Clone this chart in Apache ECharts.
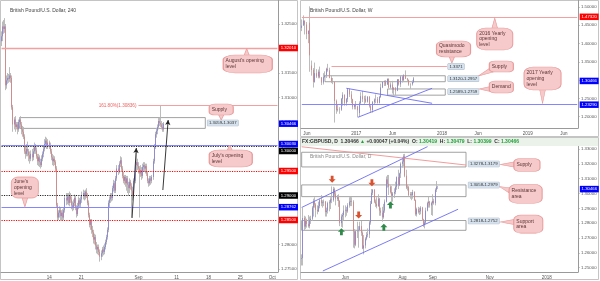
<!DOCTYPE html>
<html><head><meta charset="utf-8">
<script src="https://cdn.jsdelivr.net/npm/echarts@6/dist/echarts.min.js"></script>
<style>html,body{margin:0;padding:0;background:#fff}#c{width:600px;height:281px}</style>
</head><body><div id="c"></div>
<script>
// ================= DATA =================
// 4h candles [open, close, low, high], Aug 2 (partial) .. Sep 7 2017
const h4Candles = [
[1.3215,1.3225,1.3205,1.3235],[1.3225,1.3245,1.3215,1.3255],[1.3245,1.3240,1.3230,1.3258],
[1.3240,1.3245,1.3232,1.3262],[1.3245,1.3125,1.3115,1.3250],[1.3125,1.3135,1.3118,1.3145],[1.3135,1.3140,1.3128,1.3150],[1.3140,1.3138,1.3130,1.3148],[1.3138,1.3145,1.3132,1.3162],
[1.3145,1.3140,1.3130,1.3150],[1.3140,1.3080,1.3075,1.3145],[1.3080,1.3045,1.3030,1.3085],[1.3045,1.3055,1.3035,1.3060],[1.3055,1.3040,1.3030,1.3062],[1.3040,1.3045,1.3035,1.3050],
[1.3045,1.3035,1.3025,1.3050],[1.3035,1.3050,1.3030,1.3055],[1.3050,1.3055,1.3042,1.3060],[1.3055,1.3045,1.3038,1.3062],[1.3045,1.3035,1.3025,1.3050],[1.3035,1.3030,1.3020,1.3042],
[1.3030,1.3020,1.3015,1.3040],[1.3020,1.2990,1.2985,1.3025],[1.2990,1.2985,1.2975,1.3000],[1.2985,1.2995,1.2980,1.3005],[1.2995,1.2990,1.2980,1.3010],[1.2990,1.2982,1.2970,1.2995],
[1.2982,1.2975,1.2965,1.2990],[1.2975,1.2985,1.2970,1.2992],[1.2985,1.2978,1.2970,1.2995],[1.2978,1.2990,1.2972,1.2998],[1.2990,1.3000,1.2985,1.3008],[1.3000,1.2992,1.2985,1.3005],
[1.2992,1.2980,1.2975,1.2998],[1.2980,1.2970,1.2962,1.2985],[1.2970,1.2978,1.2960,1.2985],[1.2978,1.2968,1.2958,1.2982],[1.2968,1.2962,1.2955,1.2975],[1.2962,1.2975,1.2958,1.2982],
[1.2975,1.2985,1.2970,1.2990],[1.2985,1.2995,1.2978,1.3000],[1.2995,1.3005,1.2990,1.3015],[1.3005,1.3012,1.2998,1.3020],[1.3012,1.3000,1.2995,1.3018],[1.3000,1.3008,1.2995,1.3015],
[1.3008,1.3002,1.2995,1.3012],[1.3002,1.2990,1.2985,1.3008],[1.2990,1.2978,1.2972,1.2995],[1.2978,1.2970,1.2962,1.2985],[1.2970,1.2975,1.2960,1.2982],[1.2975,1.2968,1.2962,1.2980],
[1.2968,1.2955,1.2950,1.2972],[1.2955,1.2880,1.2875,1.2960],[1.2880,1.2855,1.2848,1.2885],[1.2855,1.2865,1.2850,1.2870],[1.2865,1.2870,1.2855,1.2878],[1.2870,1.2858,1.2850,1.2875],
[1.2858,1.2865,1.2850,1.2870],[1.2865,1.2855,1.2848,1.2872],[1.2855,1.2870,1.2850,1.2875],[1.2870,1.2895,1.2865,1.2900],[1.2895,1.2890,1.2880,1.2905],[1.2890,1.2898,1.2882,1.2905],
[1.2898,1.2885,1.2880,1.2905],[1.2885,1.2900,1.2878,1.2908],[1.2900,1.2892,1.2885,1.2905],[1.2892,1.2880,1.2872,1.2898],[1.2880,1.2875,1.2868,1.2888],[1.2875,1.2885,1.2870,1.2892],
[1.2885,1.2895,1.2878,1.2902],[1.2895,1.2875,1.2870,1.2900],[1.2875,1.2862,1.2855,1.2880],[1.2862,1.2878,1.2858,1.2885],[1.2878,1.2890,1.2872,1.2898],[1.2890,1.2882,1.2875,1.2895],
[1.2882,1.2892,1.2875,1.2898],[1.2892,1.2900,1.2885,1.2908],[1.2900,1.2905,1.2892,1.2912],[1.2905,1.2898,1.2890,1.2910],[1.2898,1.2908,1.2892,1.2912],[1.2908,1.2900,1.2895,1.2915],
[1.2900,1.2885,1.2880,1.2905],[1.2885,1.2860,1.2855,1.2890],[1.2860,1.2840,1.2835,1.2865],[1.2840,1.2848,1.2830,1.2852],[1.2848,1.2830,1.2822,1.2852],[1.2830,1.2825,1.2815,1.2838],
[1.2825,1.2810,1.2802,1.2830],[1.2810,1.2815,1.2800,1.2822],[1.2815,1.2798,1.2790,1.2820],[1.2798,1.2790,1.2782,1.2805],[1.2790,1.2795,1.2780,1.2800],[1.2795,1.2785,1.2778,1.2800],
[1.2785,1.2775,1.2765,1.2790],[1.2775,1.2782,1.2768,1.2788],[1.2782,1.2790,1.2775,1.2795],[1.2790,1.2785,1.2778,1.2798],[1.2785,1.2795,1.2780,1.2802],[1.2795,1.2805,1.2790,1.2810],
[1.2805,1.2815,1.2800,1.2820],[1.2815,1.2830,1.2810,1.2835],[1.2830,1.2885,1.2825,1.2890],[1.2885,1.2892,1.2875,1.2898],[1.2892,1.2900,1.2885,1.2905],[1.2900,1.2895,1.2888,1.2905],
[1.2895,1.2915,1.2890,1.2920],[1.2915,1.2925,1.2908,1.2932],[1.2925,1.2910,1.2905,1.2930],[1.2910,1.2935,1.2905,1.2940],[1.2935,1.2955,1.2930,1.2962],[1.2955,1.2950,1.2942,1.2962],
[1.2950,1.2965,1.2945,1.2970],[1.2965,1.2972,1.2958,1.2980],[1.2972,1.2955,1.2950,1.2978],[1.2955,1.2940,1.2935,1.2960],[1.2940,1.2930,1.2925,1.2948],[1.2930,1.2938,1.2922,1.2942],
[1.2938,1.2925,1.2918,1.2942],[1.2925,1.2935,1.2910,1.2940],[1.2935,1.2922,1.2905,1.2940],[1.2922,1.2915,1.2900,1.2928],[1.2915,1.2928,1.2905,1.2935],[1.2928,1.2920,1.2912,1.2932],
[1.2920,1.2910,1.2855,1.2925],[1.2910,1.2900,1.2890,1.2918],[1.2900,1.2930,1.2895,1.2935],[1.2930,1.2962,1.2925,1.2970],[1.2962,1.2968,1.2950,1.2993],[1.2968,1.2960,1.2952,1.2975],
[1.2960,1.2955,1.2945,1.2968],[1.2955,1.2945,1.2855,1.2960],[1.2945,1.2952,1.2938,1.2962],[1.2952,1.2940,1.2932,1.2958],[1.2940,1.2958,1.2935,1.2965],[1.2958,1.2962,1.2950,1.2968],
[1.2962,1.2955,1.2948,1.2968],[1.2955,1.2960,1.2945,1.2965],[1.2960,1.2945,1.2940,1.2965],[1.2945,1.2930,1.2925,1.2950],[1.2930,1.2925,1.2918,1.2935],[1.2925,1.2935,1.2920,1.2940],
[1.2935,1.2930,1.2922,1.2940],[1.2930,1.2938,1.2925,1.2942],[1.2938,1.2970,1.2932,1.2975],[1.2970,1.3000,1.2965,1.3005],[1.3000,1.3025,1.2995,1.3030],[1.3025,1.3032,1.3018,1.3038],
[1.3032,1.3040,1.3025,1.3045],[1.3040,1.3052,1.3035,1.3058],[1.3052,1.3048,1.3042,1.3060],[1.3048,1.3045,1.3040,1.30836],[1.3045,1.3040,1.3035,1.3052],[1.3040,1.3035,1.3030,1.3048],
[1.3035,1.30466,1.3030,1.3050]
];
const h4Count = 261;
const h4TickIdx = [45, 75, 129, 165, 195, 225, 255];
const h4TickLabels = ['14', '21', 'Sep', '11', '18', '25', 'Oct'];
const h4YTicks = [1.275, 1.28, 1.285, 1.29, 1.295, 1.30, 1.305, 1.31, 1.315, 1.32, 1.325];

// weekly candles [open, close, low, high], May 16 2016 .. Sep 4 2017
const wCandles = [
[1.4430,1.4490,1.4340,1.4660],[1.4490,1.4630,1.4490,1.4770],[1.4630,1.4520,1.4250,1.4630],[1.4520,1.4260,1.4120,1.4590],
[1.4260,1.4350,1.4010,1.4360],[1.4570,1.3680,1.3229,1.5018],[1.3400,1.3280,1.3122,1.3535],[1.3280,1.2950,1.2798,1.3330],
[1.2950,1.3190,1.2930,1.3480],[1.3190,1.3100,1.3060,1.3300],[1.3100,1.3230,1.3050,1.3290],[1.3230,1.3080,1.3050,1.3370],
[1.3080,1.2935,1.2865,1.3080],[1.2935,1.3080,1.2880,1.3190],[1.3080,1.3130,1.3060,1.3240],[1.3130,1.3310,1.3060,1.3340],
[1.3310,1.3270,1.3230,1.3445],[1.3270,1.3060,1.3050,1.3340],[1.3060,1.2965,1.2920,1.3140],[1.2965,1.2955,1.2890,1.3060],
[1.2955,1.2430,1.1840,1.2970],[1.2430,1.2180,1.2080,1.2470],[1.2180,1.2200,1.2140,1.2330],[1.2200,1.2190,1.2080,1.2260],
[1.2190,1.2490,1.2160,1.2510],[1.2490,1.2600,1.2300,1.2670],[1.2600,1.2380,1.2300,1.2610],[1.2380,1.2480,1.2300,1.2510],
[1.2480,1.2750,1.2400,1.2775],[1.2750,1.2610,1.2540,1.2770],[1.2610,1.2480,1.2370,1.2700],[1.2480,1.2270,1.2200,1.2490],
[1.2270,1.2340,1.2200,1.2350],[1.2340,1.2280,1.2200,1.2430],[1.2280,1.2180,1.1985,1.2300],[1.2100,1.2370,1.2000,1.2420],
[1.2370,1.2560,1.2350,1.2670],[1.2560,1.2480,1.2400,1.2705],[1.2480,1.2490,1.2345,1.2570],[1.2490,1.2410,1.2380,1.2580],
[1.2410,1.2550,1.2385,1.2560],[1.2550,1.2290,1.2250,1.2560],[1.2290,1.2180,1.2110,1.2340],[1.2180,1.2400,1.2110,1.2430],
[1.2400,1.2470,1.2340,1.2500],[1.2470,1.2480,1.2370,1.2610],[1.2480,1.2380,1.2360,1.2540],[1.2380,1.2540,1.2360,1.2570],
[1.2540,1.2800,1.2515,1.2905],[1.2800,1.2950,1.2780,1.2960],[1.2950,1.2970,1.2840,1.2990],[1.2970,1.2880,1.2840,1.3000],
[1.2880,1.3030,1.2870,1.3050],[1.3030,1.2800,1.2780,1.3050],[1.2800,1.2880,1.2770,1.2940],[1.2880,1.2740,1.2635,1.2980],
[1.2740,1.2780,1.2590,1.2810],[1.2780,1.2710,1.2590,1.2810],[1.2710,1.3020,1.2700,1.3030],[1.3020,1.2885,1.2850,1.3030],
[1.2885,1.3095,1.2810,1.3115],[1.3095,1.3000,1.2935,1.3125],[1.3000,1.3135,1.2970,1.3160],[1.3135,1.3040,1.3030,1.3267],
[1.3040,1.3010,1.2955,1.3060],[1.3010,1.2880,1.2845,1.3015],[1.2880,1.2885,1.2765,1.2915],[1.2885,1.2950,1.2850,1.2995],
[1.2950,1.30466,1.2920,1.3084]
];
const wCount = 168;
const wTickIdx = [3, 33, 55, 85, 107, 137, 159];
const wTickLabels = ['Jun', '2017', 'Jun', '2018', 'Jun', '2019', 'Jun'];
const wYTicks = [1.20, 1.25, 1.30, 1.35, 1.40, 1.45, 1.50];

// daily candles [open, close, low, high], Apr 17 .. Sep 7 2017
const dCandles = [
[1.2560,1.2565,1.2515,1.2590],[1.2565,1.2835,1.2515,1.2905],[1.2835,1.2777,1.2750,1.2850],[1.2777,1.2815,1.2760,1.2845],[1.2815,1.2795,1.2770,1.2830],
[1.2795,1.2780,1.2770,1.2855],[1.2780,1.2820,1.2765,1.2845],[1.2820,1.2830,1.2795,1.2850],[1.2830,1.2905,1.2815,1.2915],[1.2905,1.2945,1.2845,1.2965],
[1.2945,1.2925,1.2905,1.2975],[1.2925,1.2890,1.2840,1.2935],[1.2890,1.2880,1.2860,1.2920],[1.2880,1.2915,1.2875,1.2945],[1.2915,1.2955,1.2900,1.2965],
[1.2955,1.2935,1.2915,1.2990],[1.2935,1.2940,1.2905,1.2955],[1.2940,1.2945,1.2915,1.2960],[1.2945,1.2875,1.2845,1.2950],[1.2875,1.2885,1.2845,1.2905],
[1.2885,1.2935,1.2865,1.2945],[1.2935,1.2940,1.2880,1.2955],[1.2940,1.2960,1.2895,1.2975],[1.2960,1.2955,1.2935,1.3048],[1.2955,1.3030,1.2945,1.3045],
[1.3030,1.2995,1.2975,1.3040],[1.2995,1.2965,1.2920,1.3010],[1.2965,1.2975,1.2950,1.2990],[1.2975,1.2950,1.2910,1.2995],[1.2950,1.2800,1.2780,1.2955],
[1.2800,1.2845,1.2775,1.2860],[1.2845,1.2855,1.2770,1.2870],[1.2855,1.2885,1.2820,1.2920],[1.2885,1.2890,1.2840,1.2920],[1.2890,1.2880,1.2850,1.2910],
[1.2880,1.2920,1.2870,1.2935],[1.2920,1.2945,1.2905,1.2975],[1.2945,1.2950,1.2915,1.2980],[1.2950,1.2945,1.2915,1.2975],[1.2945,1.2745,1.2635,1.2955],
[1.2745,1.2655,1.2630,1.2760],[1.2655,1.2745,1.2645,1.2755],[1.2745,1.2750,1.2700,1.2810],[1.2750,1.2755,1.2635,1.2780],[1.2755,1.2780,1.2745,1.2810],
[1.2780,1.2735,1.2715,1.2815],[1.2735,1.2630,1.2625,1.2745],[1.2630,1.2650,1.2590,1.2720],[1.2650,1.2695,1.2630,1.2705],[1.2695,1.2720,1.2685,1.2740],
[1.2720,1.2725,1.2705,1.2765],[1.2725,1.2805,1.2700,1.2820],[1.2805,1.2930,1.2790,1.2950],[1.2930,1.3005,1.2930,1.3030],[1.3005,1.3025,1.2990,1.3030],
[1.3025,1.2945,1.2935,1.3030],[1.2945,1.2930,1.2910,1.2960],[1.2930,1.2915,1.2900,1.2975],[1.2915,1.2965,1.2910,1.2995],[1.2965,1.2885,1.2850,1.2970],
[1.2885,1.2870,1.2850,1.2905],[1.2870,1.2840,1.2810,1.2910],[1.2840,1.2885,1.2830,1.2930],[1.2885,1.2945,1.2870,1.2960],[1.2945,1.3095,1.2940,1.3115],
[1.3095,1.3065,1.3040,1.3125],[1.3065,1.3045,1.2990,1.3125],[1.3045,1.3010,1.3000,1.3055],[1.3010,1.2985,1.2935,1.3050],[1.2985,1.3000,1.2945,1.3010],
[1.3000,1.3010,1.2970,1.3035],[1.3010,1.3045,1.2995,1.3080],[1.3045,1.3110,1.3025,1.3115],[1.3110,1.3055,1.3030,1.3160],[1.3055,1.3135,1.3050,1.3140],
[1.3135,1.3200,1.3105,1.3210],[1.3200,1.3215,1.3175,1.3245],[1.3215,1.3250,1.3185,1.3265],[1.3250,1.3120,1.3110,1.3267],[1.3120,1.3040,1.3030,1.3160],
[1.3040,1.3042,1.3020,1.3060],[1.3042,1.2990,1.2980,1.3050],[1.2990,1.2995,1.2965,1.3010],[1.2995,1.2990,1.2955,1.3010],[1.2990,1.3010,1.2965,1.3025],
[1.3010,1.2955,1.2950,1.3015],[1.2955,1.2860,1.2850,1.2960],[1.2860,1.2895,1.2845,1.2905],[1.2895,1.2875,1.2865,1.2910],[1.2875,1.2880,1.2855,1.2905],
[1.2880,1.2905,1.2860,1.2915],[1.2905,1.2825,1.2815,1.2910],[1.2825,1.2790,1.2775,1.2830],[1.2790,1.2805,1.2765,1.2815],[1.2805,1.2885,1.2795,1.2905],
[1.2885,1.2935,1.2880,1.2945],[1.2935,1.2945,1.2905,1.2980],[1.2945,1.2920,1.2905,1.2950],[1.2920,1.2935,1.2855,1.2945],[1.2935,1.2950,1.2850,1.2995],
[1.2950,1.2935,1.2925,1.2965],[1.2935,1.3025,1.2920,1.3035],[1.3025,1.3045,1.3010,1.3084],[1.3045,1.30466,1.3030,1.3050]
];
const dCount = 209;
const dTickIdx = [33, 76, 99, 142, 185];
const dTickLabels = ['Jun', 'Aug', 'Sep', 'Nov', '2018'];
const dYTicks = [1.25, 1.26, 1.27, 1.28, 1.29, 1.30, 1.31, 1.32, 1.33];

// ================= STYLE / HELPERS =================
const FONT = 'Liberation Sans, Arial, sans-serif';
const UP = '#4646ee', DOWN = '#ee4646', WICK = '#b4b4b4';
const PINK = '#f6caca', PINKB = '#e89a9a', PTXT = '#5e3434';
const ZLBL = '#d5e2ee';
const RED = '#ff0000', BLUE = '#0000ff', BLACK = '#000000';
const LRED = '#f4a0a0', LBLUE = '#8585ff';
const DOT = [1.2, 1.2];

const cats = n => Array.from({length: n}, (_, i) => String(i));
const bodies = arr => arr.map(c => [c[0], c[1], Math.min(c[0], c[1]), Math.max(c[0], c[1])]);

function segLine(x1, y1, x2, y2, color, width, type, arrow) {
  return [
    { coord: [x1, y1], symbol: 'none' },
    { coord: [x2, y2], symbol: arrow ? 'arrow' : 'none', symbolSize: arrow ? [4, 5] : 0,
      lineStyle: { color: color, width: width, type: type || 'solid' } }
  ];
}
function tag(idx, v, text, color, dx, dy) {
  return { coord: [idx, v], symbol: 'rect', symbolSize: [19, 6.5], symbolOffset: [dx, dy || 0],
    itemStyle: { color: color }, z: 10,
    label: { show: true, position: 'inside', formatter: text, color: '#fff', fontSize: 4.3, fontFamily: FONT } };
}
function zoneLabel(idx, v, text) {
  return { coord: [idx, v], symbol: 'rect', symbolSize: 0.1, itemStyle: { color: 'rgba(0,0,0,0)' },
    label: { show: true, position: 'right', distance: 1, formatter: text, color: '#333', fontSize: 4.3,
      fontFamily: FONT, backgroundColor: ZLBL, borderColor: '#aab8c8', borderWidth: 0.5, padding: [1, 1.5, 0.5, 1.5] } };
}
function bubble(idx, v, w, h, text) {
  return { coord: [idx, v], symbol: 'roundRect', symbolSize: [w, h],
    itemStyle: { color: PINK, borderColor: PINKB, borderWidth: 0.8 },
    label: { show: true, position: 'insideLeft', distance: 3, formatter: text, color: PTXT, fontSize: 5,
      lineHeight: 5.8, fontFamily: FONT } };
}
function pointer(idx, v, w, h, rot) {
  return { coord: [idx, v], symbol: 'triangle', symbolSize: [w, h], symbolRotate: rot,
    itemStyle: { color: PINK, borderColor: PINKB, borderWidth: 0.8 }, label: { show: false } };
}
const blockArrow = 'path://M4,0 L8,4 L5.6,4 L5.6,8 L2.4,8 L2.4,4 L0,4 Z';
function marker(idx, v, up) {
  return { coord: [idx, v], symbol: blockArrow, symbolSize: [7, 7], symbolRotate: up ? 0 : 180,
    itemStyle: { color: up ? '#2f8a4a' : '#d9512f' }, label: { show: false } };
}
function zone(x1, y1, x2, y2) {
  return [{ coord: [x1, y1] }, { coord: [x2, y2] }];
}

function xAxisCfg(gi, count, tickIdx, tickLabels) {
  return {
    type: 'category', gridIndex: gi, data: cats(count), boundaryGap: true,
    axisLine: { lineStyle: { color: '#9a9a9a', width: 1 } },
    axisTick: { show: false },
    axisLabel: {
      interval: (i) => tickIdx.indexOf(i) >= 0,
      formatter: (v, i) => { const k = tickIdx.indexOf(Number(v)); return k >= 0 ? tickLabels[k] : ''; },
      fontSize: 4.5, color: '#555', margin: 3, fontFamily: FONT
    },
    splitLine: { show: false }, splitArea: { show: false }
  };
}
function yAxisCfg(gi, min, max, ticks) {
  return {
    type: 'value', gridIndex: gi, position: 'right', min: min, max: max, scale: true,
    axisLine: { show: true, lineStyle: { color: '#9a9a9a', width: 1 } },
    axisTick: { show: true, length: 1.5, customValues: ticks, lineStyle: { color: '#999' } },
    axisLabel: { customValues: ticks, formatter: v => v.toFixed(5), fontSize: 4.3, color: '#555', margin: 3, fontFamily: FONT },
    splitLine: { show: false }, splitArea: { show: false }
  };
}
function candleSeries(gi, data, bw, extraWick, extraBody) {
  return [
    Object.assign({
      type: 'candlestick', xAxisIndex: gi, yAxisIndex: gi, data: data, barWidth: 1, z: 2,
      itemStyle: { color: WICK, color0: WICK, borderColor: WICK, borderColor0: WICK, borderWidth: 0.9 }
    }, extraWick),
    Object.assign({
      type: 'candlestick', xAxisIndex: gi, yAxisIndex: gi, data: bodies(data), barWidth: bw, z: 3,
      itemStyle: { color: UP, color0: DOWN, borderColor: UP, borderColor0: DOWN, borderWidth: 0.4 }
    }, extraBody)
  ];
}
const MLBASE = { silent: true, symbol: ['none', 'none'], label: { show: false }, animation: false };

// ================= PANEL 1 : 4h =================
const h4Last = h4Count - 1;
const p1 = candleSeries(0, h4Candles, 1.0, {
  markLine: Object.assign({}, MLBASE, { data: [
    segLine(0, 1.3201, h4Last, 1.3201, LRED, 1.4),
    segLine(0, 1.3003, h4Last, 1.3003, LBLUE, 1),
    segLine(0, 1.3000, h4Last, 1.3000, '#222', 1, DOT),
    segLine(0, 1.2950, h4Last, 1.2950, RED, 1, DOT),
    segLine(0, 1.2900, h4Last, 1.2900, '#222', 1, DOT),
    segLine(0, 1.28762, h4Last, 1.28762, LBLUE, 1),
    segLine(0, 1.2850, h4Last, 1.2850, RED, 1, DOT),
    [{ coord: [129, 1.30836], symbol: 'none', label: { show: true, position: 'start', distance: 2, formatter: '161.80%(1.30836)',
        color: '#ee6060', fontSize: 4.6, fontFamily: FONT } },
     { coord: [h4Last, 1.30836], symbol: 'none', lineStyle: { color: LRED, width: 1, type: 'solid' } }],
    segLine(123, 1.28541, 127, 1.29969, '#222', 0.9, 'solid', true),
    segLine(152, 1.29112, 157, 1.30541, '#222', 0.9, 'solid', true)
  ]}),
  markArea: { silent: true, itemStyle: { color: 'rgba(255,255,255,0)', borderColor: '#8a8a8a', borderWidth: 0.8 },
    data: [zone(17, 1.3059, 192, 1.3037)] }
}, {
  markPoint: { silent: true, animation: false, data: [
    zoneLabel(193, 1.3048, '1.3059-1.3037'),
    pointer(231, 1.31918, 6, 8, 0), bubble(232, 1.31684, 49, 18, "August's opening\nlevel"),
    pointer(207, 1.30602, 6, 6, 180), bubble(207, 1.30755, 24, 11, 'Supply'),
    pointer(215, 1.29965, 6, 6, 0), bubble(216, 1.29755, 43, 17, "July's opening\nlevel"),
    pointer(22, 1.28867, 6, 10, 180), bubble(22, 1.29163, 27, 21, "June's\nopening\nlevel"),
    tag(h4Last, 1.3201, '1.32010', RED, 11, 0),
    tag(h4Last, 1.30466, '1.30466', BLUE, 11, 0),
    tag(h4Last, 1.3003, '1.30030', BLUE, 11, -1),
    tag(h4Last, 1.3000, '1.30000', BLACK, 11, 4.5),
    tag(h4Last, 1.2950, '1.29500', RED, 11, 0),
    tag(h4Last, 1.2900, '1.29000', BLACK, 11, 0),
    tag(h4Last, 1.28762, '1.28762', BLUE, 11, 0),
    tag(h4Last, 1.2850, '1.28500', RED, 11, 0)
  ]}
});

// ================= PANEL 2 : weekly =================
const wLast = wCount - 1;
const p2 = candleSeries(1, wCandles, 1.2, {
  markLine: Object.assign({}, MLBASE, { data: [
    segLine(0, 1.4732, wLast, 1.4732, LRED, 1.2),
    segLine(0, 1.2329, wLast, 1.2329, LBLUE, 1.2),
    segLine(18, 1.3371, 88, 1.3371, LRED, 1),
    segLine(27, 1.2777, 79, 1.2367, '#6c6cf2', 0.9),
    segLine(34, 1.1984, 79, 1.2777, '#6c6cf2', 0.9)
  ]}),
  markArea: { silent: true, itemStyle: { color: 'rgba(255,255,255,0)', borderColor: '#8a8a8a', borderWidth: 0.8 },
    data: [zone(14, 1.3120, 87, 1.2957), zone(52, 1.2759, 87, 1.2589)] }
}, {
  markPoint: { silent: true, animation: false, data: [
    zoneLabel(88, 1.3371, '1.3371'),
    zoneLabel(88, 1.3039, '1.3120-1.2957'),
    zoneLabel(88, 1.2685, '1.2589-1.2759'),
    pointer(117, 1.4549, 6, 11, 0), bubble(117, 1.4125, 36, 22, '2016 Yearly\nopening\nlevel'),
    pointer(91, 1.3564, 6, 7, 180), bubble(92, 1.3852, 34, 16, 'Quasimodo\nresistance'),
    pointer(111, 1.3195, 5, 15, 115), bubble(121, 1.3373, 24, 11, 'Supply'),
    pointer(111, 1.2758, 5, 12, 90), bubble(121, 1.2812, 24, 12, 'Demand'),
    pointer(146, 1.2561, 6, 14.5, 180), bubble(146, 1.3045, 37, 23, '2017 Yearly\nopening\nlevel'),
    tag(wLast, 1.4732, '1.47320', RED, 12, 0),
    tag(wLast, 1.30466, '1.30466', BLUE, 12, 2.5),
    tag(wLast, 1.2329, '1.23290', BLUE, 12, 0)
  ]}
});

// ================= PANEL 3 : daily =================
const dLast = dCount - 1;
const p3 = candleSeries(2, dCandles, 1.0, {
  markLine: Object.assign({}, MLBASE, { data: [
    segLine(0, 1.2906, 95, 1.3316, '#6c6cf2', 0.9),
    segLine(16, 1.2478, 118, 1.2894, '#6c6cf2', 0.9),
    segLine(0, 1.3315, 124, 1.3192, '#f09090', 0.9)
  ]}),
  markArea: { silent: true, itemStyle: { color: 'rgba(255,255,255,0)', borderColor: '#8a8a8a', borderWidth: 0.8 },
    data: [zone(0, 1.3278, 124, 1.3179), zone(0, 1.3058, 124, 1.2979), zone(0, 1.2818, 124, 1.2752)] }
}, {
  markPoint: { silent: true, animation: false, data: [
    zoneLabel(125, 1.3199, '1.3278-1.3179'),
    zoneLabel(125, 1.3057, '1.3058-1.2979'),
    zoneLabel(125, 1.2815, '1.2818-1.2752'),
    marker(23, 1.3096, false), marker(53, 1.3073, false), marker(43, 1.2855, false),
    marker(30, 1.2743, true), marker(67, 1.2923, true), marker(62, 1.2772, true),
    pointer(155, 1.31956, 5, 14, 90), bubble(170, 1.3192, 26, 13, 'Supply'),
    pointer(153, 1.30345, 5, 11, 70), bubble(169, 1.29981, 33, 19, 'Resistance\narea'),
    pointer(155, 1.28081, 5, 14, 90), bubble(171, 1.27933, 29, 18, 'Support\narea'),
    tag(dLast, 1.30466, '1.30466', BLUE, 12, 2.5)
  ]}
});

// ================= CHART =================
const chart = echarts.init(document.getElementById('c'), null, { renderer: 'canvas' });
chart.setOption({
  animation: false,
  backgroundColor: '#ffffff',
  textStyle: { fontFamily: FONT },
  title: [
    { text: 'British Pound/U.S. Dollar, 240', left: 5, top: 3, textStyle: { fontSize: 5, color: '#444', fontWeight: 'normal', fontFamily: FONT } },
    { text: 'British Pound/U.S. Dollar, W', left: 305, top: 3, textStyle: { fontSize: 5, color: '#444', fontWeight: 'normal', fontFamily: FONT } },
    { text: 'British Pound/U.S. Dollar, D', left: 305, top: 149, textStyle: { fontSize: 5, color: '#888', fontWeight: 'normal', fontFamily: FONT } }
  ],
  grid: [
    { left: 1, top: 0, width: 277, height: 272 },
    { left: 301, top: 0, width: 277, height: 128 },
    { left: 301, top: 146, width: 277, height: 126 }
  ],
  xAxis: [
    xAxisCfg(0, h4Count, h4TickIdx, h4TickLabels),
    xAxisCfg(1, wCount, wTickIdx, wTickLabels),
    xAxisCfg(2, dCount, dTickIdx, dTickLabels)
  ],
  yAxis: [
    yAxisCfg(0, 1.27439, 1.32990, h4YTicks),
    yAxisCfg(1, 1.16913, 1.51914, wYTicks),
    yAxisCfg(2, 1.24711, 1.33202, dYTicks)
  ],
  graphic: [
    { type: 'rect', z: 0, shape: { x: 0.5, y: 0.5, width: 297, height: 279 }, style: { fill: null, stroke: '#c4c4c4', lineWidth: 1 } },
    { type: 'rect', z: 0, shape: { x: 300.5, y: 0.5, width: 298, height: 136 }, style: { fill: null, stroke: '#c4c4c4', lineWidth: 1 } },
    { type: 'rect', z: 0, shape: { x: 300.5, y: 137.5, width: 298, height: 142 }, style: { fill: null, stroke: '#c4c4c4', lineWidth: 1 } },
    { type: 'rect', z: 1, shape: { x: 301, y: 138, width: 297, height: 8 }, style: { fill: '#eaf2ea', stroke: null } },
    { type: 'text', z: 5, left: 302, top: 139.2, style: {
        text: '{d|FX:GBPUSD, D  1.30466 }{g|▲}{d| +0.00047 (+0.04%)  O: }{g|1.30419}{d|  H: }{g|1.30479}{d|  L: }{g|1.30399}{d|  C: }{g|1.30466}',
        rich: {
          d: { fontSize: 5, fill: '#333', fontFamily: FONT, fontWeight: 'bold' },
          g: { fontSize: 5, fill: '#22a03a', fontFamily: FONT, fontWeight: 'bold' }
        }
      } }
  ],
  series: [].concat(p1, p2, p3)
});
</script>
</body></html>
